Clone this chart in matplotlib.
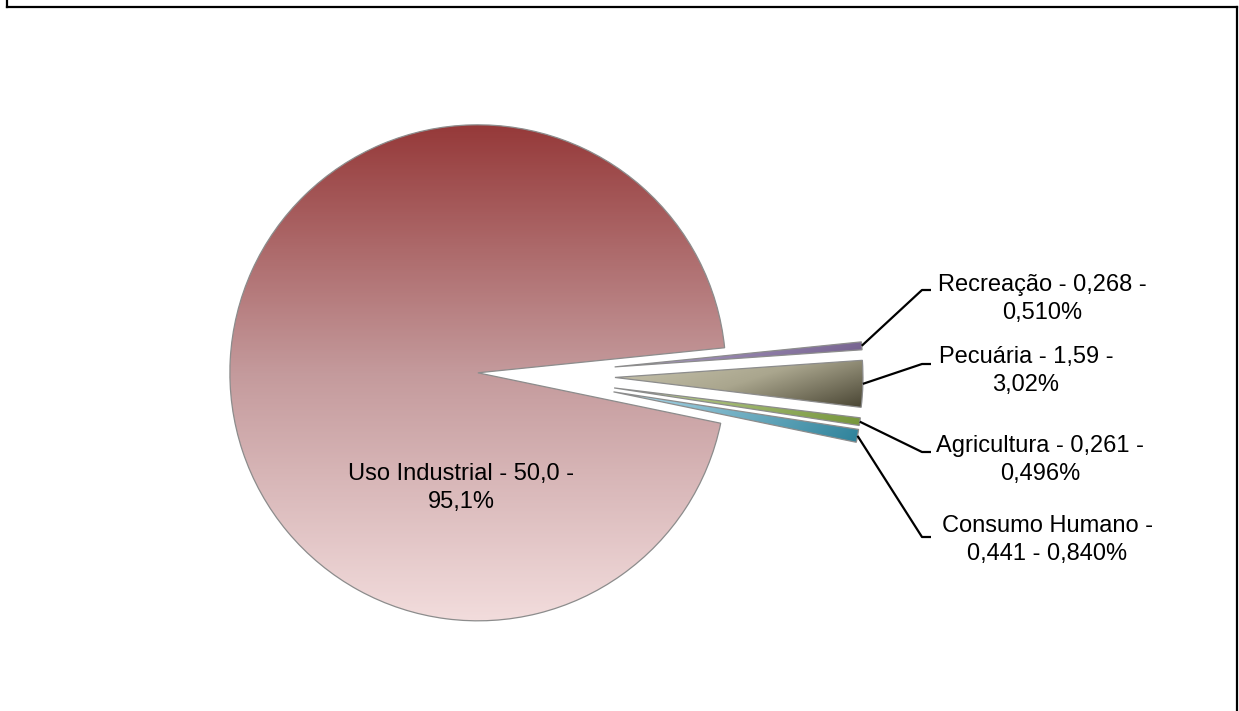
import numpy as np
import matplotlib

matplotlib.use("Agg")

import matplotlib.pyplot as plt
from matplotlib.colors import LinearSegmentedColormap
from matplotlib.lines import Line2D

plt.rcParams["font.family"] = ["Liberation Sans", "DejaVu Sans"]

# data
categories = ["Recreação", "Pecuária", "Agricultura", "Consumo Humano", "Uso Industrial"]
values = [0.268, 1.59, 0.261, 0.441, 50.0]
label_text = [
    "Recreação - 0,268 -\n0,510%",
    "Pecuária - 1,59 -\n3,02%",
    "Agricultura - 0,261 -\n0,496%",
    "Consumo Humano -\n0,441 - 0,840%",
    "Uso Industrial - 50,0 -\n95,1%",
]

# style
explode_frac = [0.383, 0.383, 0.383, 0.383, 0.17]
gradients = [
    (["#b8aad0", "#6e5a88"], (1.0, -0.2)),
    (["#cac6b0", "#aaa68e", "#4a4634"], (1.0, -0.6)),
    (["#c4d49c", "#76963c"], (1.0, -0.2)),
    (["#b4dcec", "#2e829a"], (1.0, -0.2)),
    (["#963a3a", "#c49a9c", "#f2dcdc"], (0.0, -1.0)),
]

W, H = 1239, 711
CX, CY, R = 520, 375, 248          # pixels from top-left
label_pos = [(1042, 299), (1026, 371), (1040, 460), (1047, 540)]
elbow_pos = [(922, 290), (922, 364), (922, 452), (922, 537)]
elbow_end = 931
main_label_pos = (461, 488)


def fy(y):
    return H - y


def fill_gradient(ax, wedge, stops, direction):
    bb = wedge.get_path().get_extents()
    gx, gy = np.meshgrid(np.linspace(0, 1, 300), np.linspace(0, 1, 300))
    t = gx * direction[0] + gy * direction[1]
    t = (t - t.min()) / (t.max() - t.min())
    cmap = LinearSegmentedColormap.from_list("g", stops)
    im = ax.imshow(t, cmap=cmap, extent=(bb.x0, bb.x1, bb.y0, bb.y1),
                   origin="lower", aspect="auto", interpolation="bilinear",
                   zorder=1)
    im.set_clip_path(wedge)


fig = plt.figure(figsize=(W / 100, H / 100), dpi=100)
ax = fig.add_axes([0, 0, 1, 1])

# matplotlib applies explode in data units, so scale by the radius
wedges, _ = ax.pie(
    values, explode=[e * R for e in explode_frac], startangle=5.8,
    counterclock=False, center=(CX, fy(CY)), radius=R,
    wedgeprops=dict(edgecolor="#8c8c8c", linewidth=0.9, zorder=2),
)

for w, (stops, d) in zip(wedges, gradients):
    fill_gradient(ax, w, stops, d)
    w.set_facecolor("none")

# labels for the small slices with leader lines
for i, w in enumerate(wedges[:4]):
    ang = np.deg2rad((w.theta1 + w.theta2) / 2)
    sx = w.center[0] + w.r * np.cos(ang)
    sy = w.center[1] + w.r * np.sin(ang)
    ex, ey = elbow_pos[i]
    ax.plot([sx, ex, elbow_end], [sy, fy(ey), fy(ey)], color="black",
            lw=1.6, zorder=3, solid_capstyle="butt")
    lx, ly = label_pos[i]
    ax.text(lx, fy(ly), label_text[i], ha="center", va="center",
            multialignment="center", fontsize=17, linespacing=1.3,
            color="black")

ax.text(main_label_pos[0], fy(main_label_pos[1]), label_text[4],
        ha="center", va="center", multialignment="center", fontsize=17,
        linespacing=1.3, color="black", zorder=4)

ax.set_xlim(0, W)
ax.set_ylim(0, H)
ax.axis("off")

# chart frame (bottom edge runs off the image)
for xs, ys in [((6.5, 6.5), (H + 20, H - 6.5)),
               ((6.5, 1236.5), (H - 6.5, H - 6.5)),
               ((1236.5, 1236.5), (H - 6.5, -20))]:
    fig.add_artist(Line2D(np.array(xs) / W, np.array(ys) / H,
                          color="black", lw=1.6, transform=fig.transFigure))

fig.savefig("out.png", dpi=100)
plt.close(fig)
